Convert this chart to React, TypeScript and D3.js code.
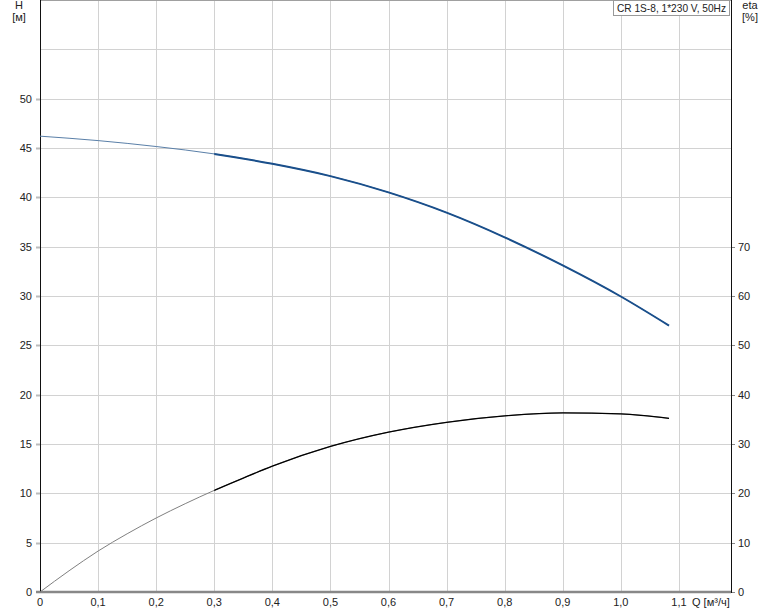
import { useRef, useEffect } from "react";
import * as d3 from "d3";

// pump curve data (Q in m3/h)
const qHead = [0, 0.1, 0.2, 0.3, 0.4, 0.5, 0.6, 0.7, 0.8, 0.9, 1.0, 1.083];
const headValues = [46.2, 45.75, 45.15, 44.4, 43.4, 42.15, 40.5, 38.45, 35.95, 33.1, 29.95, 27.0];
const qEta = [0, 0.05, 0.1, 0.15, 0.2, 0.25, 0.3, 0.35, 0.4, 0.5, 0.6, 0.7, 0.8, 0.9, 1.0, 1.083];
const etaValues = [0, 4.3, 8.3, 11.8, 15.0, 17.9, 20.6, 23.1, 25.5, 29.5, 32.4, 34.4, 35.7, 36.3, 36.1, 35.2];

const xTicks = [0, 0.1, 0.2, 0.3, 0.4, 0.5, 0.6, 0.7, 0.8, 0.9, 1.0, 1.1];
const hTicks = [0, 5, 10, 15, 20, 25, 30, 35, 40, 45, 50];
const hGrid = [5, 10, 15, 20, 25, 30, 35, 40, 45, 50, 55];
const etaTicks = [0, 10, 20, 30, 40, 50, 60, 70];

const legendText = "CR 1S-8, 1*230 V, 50Hz";
const dutyStart = 0.3; // curves get drawn bold from here on

const W = 774;
const H = 611;
const left = 40;
const right = 731;
const top = 0;
const bottom = 592;
const FONT = "'Liberation Sans', Arial, sans-serif";

function drawChart(svgEl: SVGSVGElement) {
  const svg = d3.select(svgEl);
  svg.selectAll("*").remove();

  const x = d3.scaleLinear().domain([0, 1.2]).range([left, 737]);
  const y = d3.scaleLinear().domain([0, 60]).range([bottom, top]);
  const yEta = d3.scaleLinear().domain([0, 120]).range([bottom, top]);
  const fmt = (v: number) => (v === 0 ? "0" : d3.format(".1f")(v).replace(".", ","));

  // grid
  const grid = svg.append("g").attr("shape-rendering", "crispEdges");
  grid.selectAll("line.v")
    .data(xTicks.filter(d => d > 0))
    .join("line")
    .attr("x1", d => Math.round(x(d)) + 0.5)
    .attr("x2", d => Math.round(x(d)) + 0.5)
    .attr("y1", top)
    .attr("y2", bottom)
    .attr("stroke", "#d2d2d2");
  grid.selectAll("line.h")
    .data(hGrid)
    .join("line")
    .attr("x1", left)
    .attr("x2", right)
    .attr("y1", d => Math.round(y(d)) + 0.5)
    .attr("y2", d => Math.round(y(d)) + 0.5)
    .attr("stroke", "#d2d2d2");
  grid.append("line")
    .attr("x1", left).attr("x2", right)
    .attr("y1", 0.5).attr("y2", 0.5)
    .attr("stroke", "#a0a0a0");

  // left axis ticks + labels
  const yAx = svg.append("g").attr("font-family", FONT).attr("font-size", 11).attr("fill", "#222");
  yAx.selectAll("line")
    .data(hTicks.filter(d => d > 0))
    .join("line")
    .attr("x1", left - 4).attr("x2", left)
    .attr("y1", d => Math.round(y(d)) + 0.5)
    .attr("y2", d => Math.round(y(d)) + 0.5)
    .attr("stroke", "#bbb")
    .attr("stroke-width", 2);
  yAx.selectAll("text")
    .data(hTicks)
    .join("text")
    .attr("x", 32)
    .attr("y", d => y(d) + 4)
    .attr("text-anchor", "end")
    .text(d => d);

  // right axis ticks + labels
  const eAx = svg.append("g").attr("font-family", FONT).attr("font-size", 11).attr("fill", "#222");
  eAx.selectAll("line")
    .data(etaTicks)
    .join("line")
    .attr("x1", right).attr("x2", right + 4)
    .attr("y1", d => Math.round(yEta(d)) + 0.5)
    .attr("y2", d => Math.round(yEta(d)) + 0.5)
    .attr("stroke", "#888");
  eAx.selectAll("text")
    .data(etaTicks)
    .join("text")
    .attr("x", right + 7)
    .attr("y", d => yEta(d) + 4)
    .text(d => d);

  // x labels
  const xAx = svg.append("g").attr("font-family", FONT).attr("font-size", 11).attr("fill", "#222");
  xAx.selectAll("text")
    .data(xTicks)
    .join("text")
    .attr("x", d => x(d))
    .attr("y", 606)
    .attr("text-anchor", "middle")
    .text(d => fmt(d));
  xAx.append("text").attr("x", 692).attr("y", 606).text("Q [м³/ч]");

  // axis lines
  svg.append("line")
    .attr("x1", left - 4).attr("x2", right)
    .attr("y1", bottom).attr("y2", bottom)
    .attr("stroke", "#888").attr("stroke-width", 2.5);
  svg.append("line")
    .attr("x1", left + 0.5).attr("x2", left + 0.5)
    .attr("y1", 0).attr("y2", bottom)
    .attr("stroke", "#111");
  svg.append("line")
    .attr("x1", right + 0.5).attr("x2", right + 0.5)
    .attr("y1", 0).attr("y2", bottom + 1)
    .attr("stroke", "#111");

  // axis titles
  const titles = svg.append("g").attr("font-family", FONT).attr("font-size", 11).attr("fill", "#222");
  titles.append("text").attr("x", 19).attr("y", 9).attr("text-anchor", "middle").text("H");
  titles.append("text").attr("x", 19).attr("y", 21).attr("text-anchor", "middle").text("[м]");
  titles.append("text").attr("x", 750).attr("y", 9).attr("text-anchor", "middle").text("eta");
  titles.append("text").attr("x", 750).attr("y", 21).attr("text-anchor", "middle").text("[%]");

  // curves
  svg.append("defs")
    .append("clipPath")
    .attr("id", "duty")
    .append("rect")
    .attr("x", x(dutyStart))
    .attr("y", 0)
    .attr("width", right - x(dutyStart))
    .attr("height", bottom);

  const headLine = d3.line<number>()
    .x((_, i) => x(qHead[i]))
    .y(d => y(d))
    .curve(d3.curveMonotoneX);
  const etaLine = d3.line<number>()
    .x((_, i) => x(qEta[i]))
    .y(d => yEta(d))
    .curve(d3.curveMonotoneX);

  svg.append("path")
    .attr("d", etaLine(etaValues))
    .attr("fill", "none")
    .attr("stroke", "#808080")
    .attr("stroke-width", 1);
  svg.append("path")
    .attr("d", etaLine(etaValues))
    .attr("clip-path", "url(#duty)")
    .attr("fill", "none")
    .attr("stroke", "#000")
    .attr("stroke-width", 1.3);

  svg.append("path")
    .attr("d", headLine(headValues))
    .attr("fill", "none")
    .attr("stroke", "#5a7fa8")
    .attr("stroke-width", 1);
  svg.append("path")
    .attr("d", headLine(headValues))
    .attr("clip-path", "url(#duty)")
    .attr("fill", "none")
    .attr("stroke", "#1a4f8b")
    .attr("stroke-width", 2);

  // legend box
  const lg = svg.append("g");
  lg.append("rect")
    .attr("x", 613.5).attr("y", 0.5)
    .attr("width", 116).attr("height", 15)
    .attr("fill", "#fff")
    .attr("stroke", "#999");
  lg.append("text")
    .attr("x", 617).attr("y", 11.5)
    .attr("font-family", FONT)
    .attr("font-size", 10.5)
    .attr("textLength", 109)
    .attr("lengthAdjust", "spacingAndGlyphs")
    .attr("fill", "#222")
    .text(legendText);
}

export default function App() {
  const ref = useRef<SVGSVGElement>(null);

  useEffect(() => {
    if (ref.current) drawChart(ref.current);
  }, []);

  return (
    <svg
      ref={ref}
      width={W}
      height={H}
      style={{ position: "absolute", left: 0, top: 0, background: "#fff" }}
    ></svg>
  );
}
